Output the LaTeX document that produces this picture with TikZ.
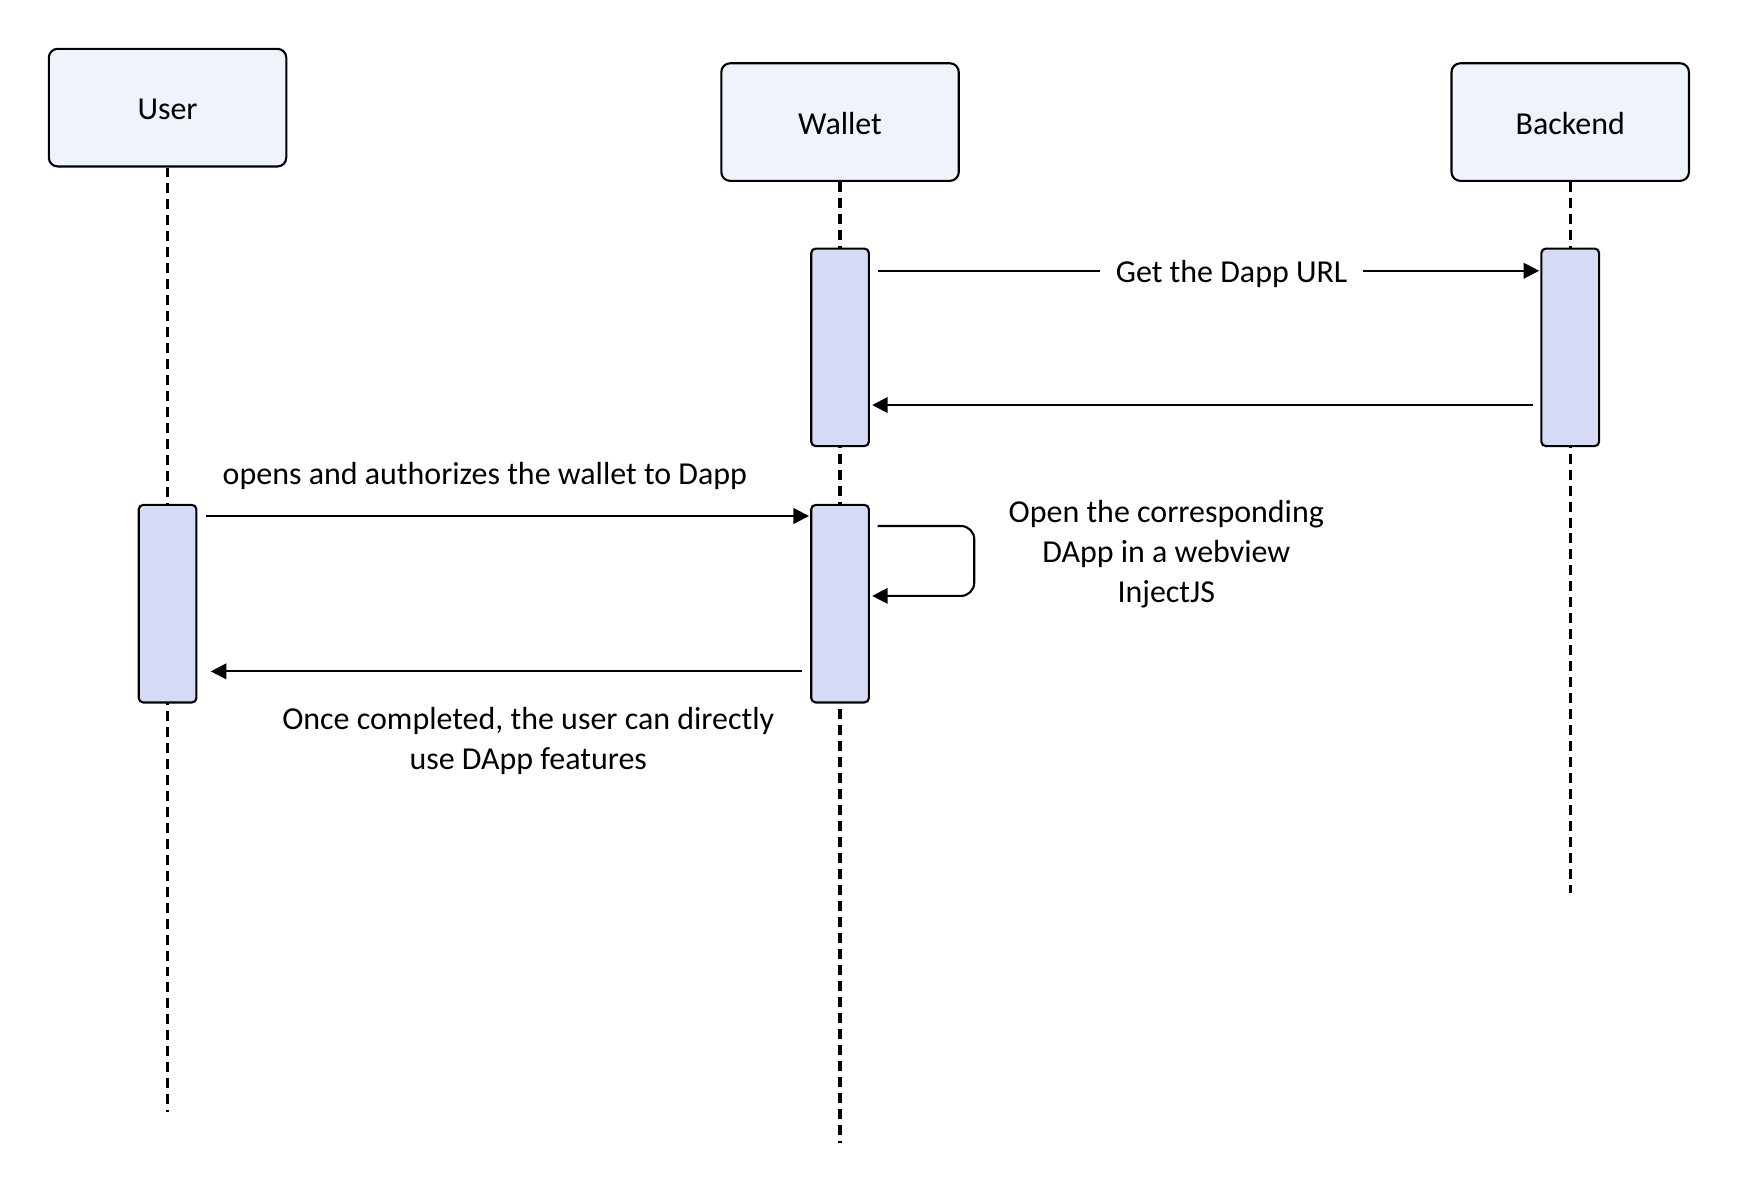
\documentclass[tikz,border=0pt]{standalone}
\usepackage{fontspec}
\setmainfont{Carlito}
\usetikzlibrary{arrows.meta,calc}
\definecolor{boxfill}{HTML}{EFF3FC}
\definecolor{actfill}{HTML}{D6DBF5}
\begin{document}
\begin{tikzpicture}[x=0.5pt,y=-0.5pt,
  actor/.style={draw=black,line width=0.95pt,fill=boxfill,rounded corners=4pt,minimum width=107pt,minimum height=53pt,inner sep=0pt,text height=11pt,text depth=0pt,font=\fontsize{14.4}{16}\selectfont},
  act/.style={draw=black,line width=0.95pt,fill=actfill,rounded corners=2pt,minimum width=26pt,minimum height=89pt,inner sep=0pt},
  life/.style={line width=1.5pt,dash pattern=on 4.5pt off 2.7pt},
  msg/.style={line width=0.95pt,-{Triangle[length=7pt,width=7pt]}},
  lbl/.style={font=\fontsize{14.4}{18}\selectfont,align=center,inner sep=0pt}]
\useasboundingbox (0,0) rectangle (1568,1076);
% actors
\node[actor] (user) at (151,97) {User};
\node[actor] (wallet) at (757,110) {Wallet};
\node[actor] (backend) at (1415,110) {Backend};
% lifeline ends
\coordinate (uend) at (151,1002);
\coordinate (wend) at (757,1030);
\coordinate (bend) at (1415,805);
\draw[life] (user.south) -- (uend);
\draw[life] (wallet.south) -- (wend);
\draw[life] (backend.south) -- (bend);
% activations
\node[act] (wa1) at (757,313) {};
\node[act] (ba1) at (1415,313) {};
\node[act] (ua) at (151,544) {};
\node[act] (wa2) at (757,544) {};
% messages
\draw[msg] ($(wa1.east)+(7,-69)$) -- node[pos=0.535,fill=white,inner xsep=7pt,inner ysep=2pt,yshift=-1.5pt,font=\fontsize{14.4}{16}\selectfont] (l1) {Get the Dapp URL} ($(ba1.west)+(-1,-69)$);
\draw[msg] ($(ba1.west)+(-7,52)$) -- ($(wa1.east)+(2,52)$);
\draw[msg] ($(ua.east)+(8,-79)$) -- ($(wa2.west)+(-1,-79)$);
\node[lbl] (l3) at (437,429) {opens and authorizes the wallet to Dapp};
\draw[msg,rounded corners=6pt] ($(wa2.east)+(7,-70)$) -- ($(wa2.east)+(94,-70)$) -- ($(wa2.east)+(94,-7)$) -- ($(wa2.east)+(2,-7)$);
\node[lbl] (lself) at (1051,499) {Open the corresponding\\DApp in a webview\\InjectJS};
\draw[msg] ($(wa2.west)+(-7,61)$) -- ($(ua.east)+(12,61)$);
\node[lbl] (l4) at (476,668) {Once completed, the user can directly\\use DApp features};
\end{tikzpicture}
\end{document}
